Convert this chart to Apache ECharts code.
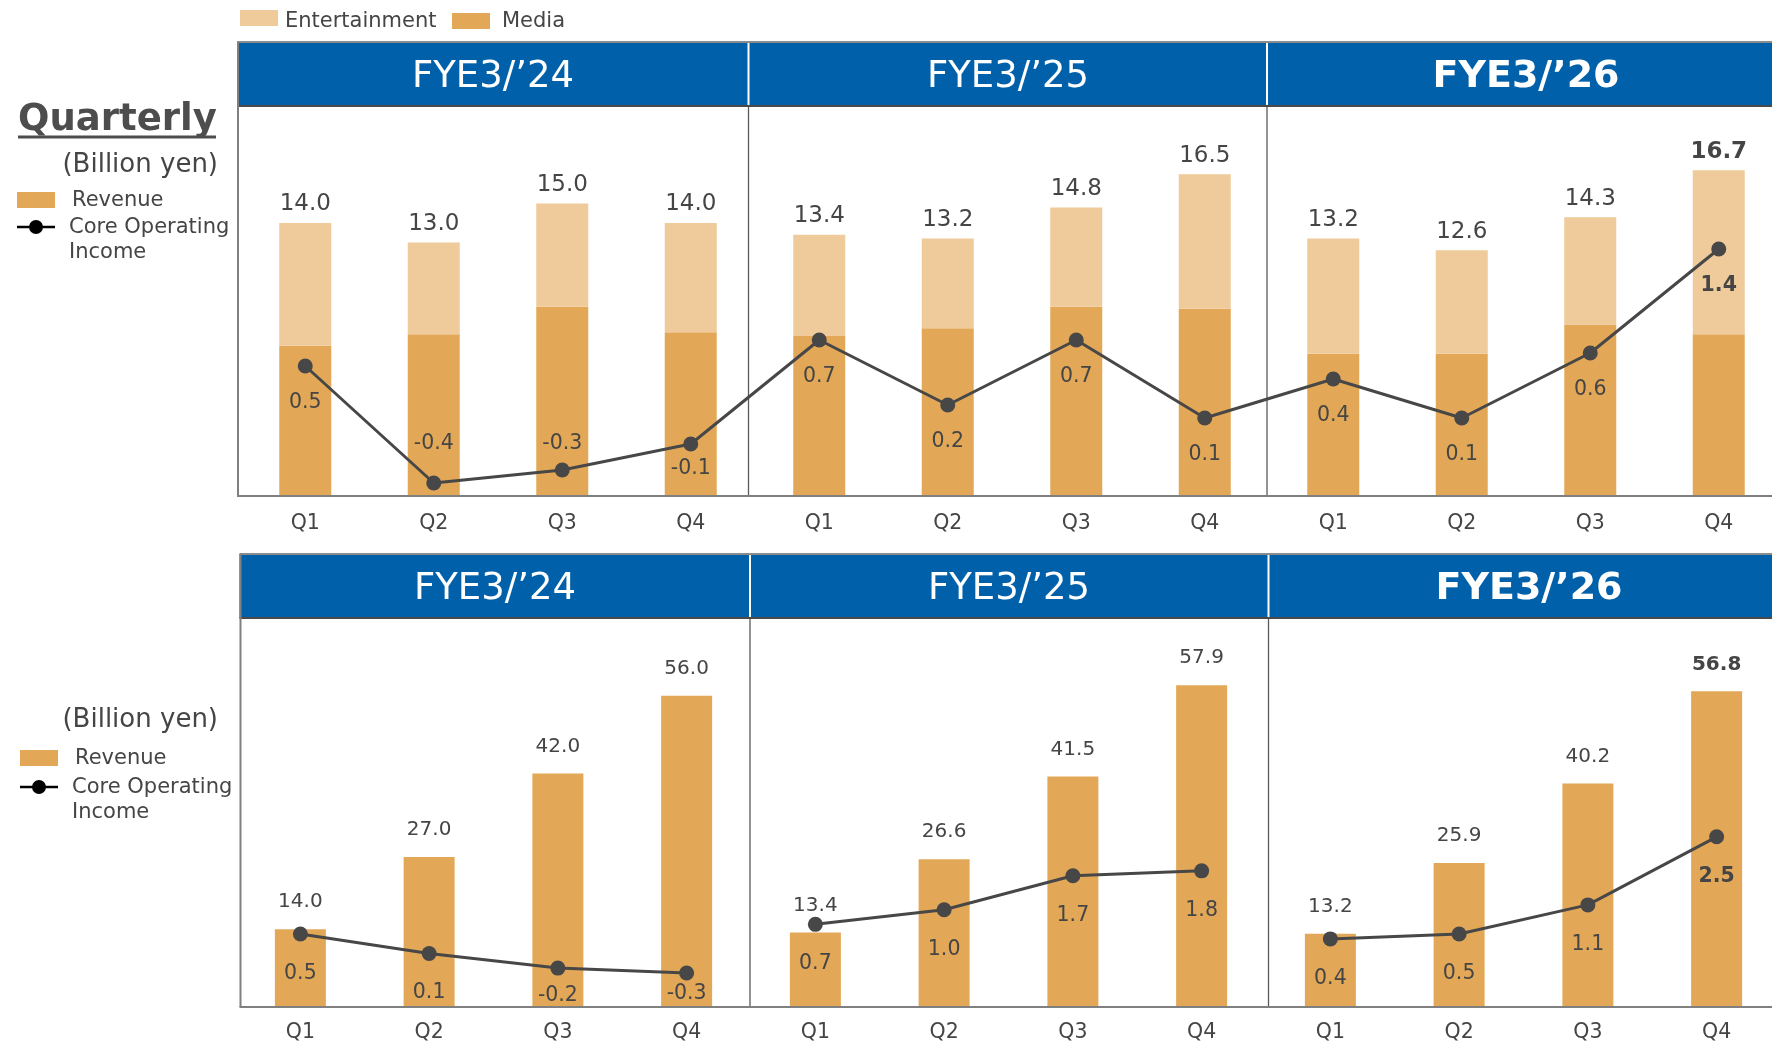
<!DOCTYPE html>
<html>
<head>
<meta charset="utf-8">
<script src="https://cdn.jsdelivr.net/npm/echarts@6/dist/echarts.min.js"></script>
<style>
  html, body { margin: 0; padding: 0; background: #ffffff; overflow: hidden; }
  #chart { width: 1772px; height: 1042px; }
</style>
</head>
<body>
<div id="chart"></div>
<script>
// ---- Data (billion yen) ----
const quarters = ['Q1', 'Q2', 'Q3', 'Q4', 'Q1', 'Q2', 'Q3', 'Q4', 'Q1', 'Q2', 'Q3', 'Q4'];
const fiscalYears = ['FYE3/’24', 'FYE3/’25', 'FYE3/’26'];

// Quarterly figures
const quarterlyRevenue = [14.0, 13.0, 15.0, 14.0, 13.4, 13.2, 14.8, 16.5, 13.2, 12.6, 14.3, 16.7];
const quarterlyMedia = [7.7, 8.3, 9.7, 8.4, 8.2, 8.6, 9.7, 9.6, 7.3, 7.3, 8.8, 8.3];
const quarterlyCoreOpIncome = [0.5, -0.4, -0.3, -0.1, 0.7, 0.2, 0.7, 0.1, 0.4, 0.1, 0.6, 1.4];

// Cumulative (year-to-date) figures
const cumulativeRevenue = [14.0, 27.0, 42.0, 56.0, 13.4, 26.6, 41.5, 57.9, 13.2, 25.9, 40.2, 56.8];
const cumulativeCoreOpIncome = [0.5, 0.1, -0.2, -0.3, 0.7, 1.0, 1.7, 1.8, 0.4, 0.5, 1.1, 2.5];

// Entertainment is the part of revenue above the Media segment
const quarterlyEntertainment = quarterlyRevenue.map((r, i) => +(r - quarterlyMedia[i]).toFixed(2));

// ---- Styling ----
const FONT = '"DejaVu Sans", Verdana, sans-serif';
const TEXT = '#454545';
const BLUE = '#0060A9';
const ENT_COLOR = '#EFCA9A';
const MEDIA_COLOR = '#E3A857';
const LINE_COLOR = '#474747';
const LATEST = 11; // the latest quarter is emphasised in bold

// Label placement tweaks for points that sit close to the baseline
const quarterlyLineLabelTweaks = { 1: ['top', 21], 2: ['top', 8], 3: ['bottom', 7] };
const cumulativeLineLabelTweaks = { 2: ['bottom', 10], 3: ['bottom', 3] };

// Panel frames: header band, plot bottom, left edge, dividers and header title centres
const panels = [
  { bandTop: 42, bandBottom: 106, plotBottom: 496, left: 237, dividers: [748.5, 1267], titleX: [493, 1008, 1526] },
  { bandTop: 554, bandBottom: 618, plotBottom: 1007, left: 239.5, dividers: [750, 1268.5], titleX: [495, 1009, 1529] }
];

function lineData(values, tweaks, onlyYear) {
  return values.map((v, i) => {
    if (onlyYear !== undefined && Math.floor(i / 4) !== onlyYear) return '-';
    const item = { value: v, label: {} };
    if (tweaks[i]) { item.label.position = tweaks[i][0]; item.label.distance = tweaks[i][1]; }
    if (i === LATEST) item.label.fontWeight = 'bold';
    return item;
  });
}

function boldLatest(values) {
  return values.map((v, i) => i === LATEST ? { value: v, label: { fontWeight: 'bold' } } : v);
}

// ---- Frame graphics (header bands, dividers, legends) ----
const graphics = [];
panels.forEach((p, row) => {
  graphics.push({ type: 'rect', shape: { x: p.left, y: p.bandTop, width: 1772 - p.left, height: p.bandBottom - p.bandTop }, style: { fill: BLUE }, z: 1 });
  graphics.push({ type: 'line', shape: { x1: p.left, y1: p.bandTop, x2: 1772, y2: p.bandTop }, style: { stroke: '#8c8c8c', lineWidth: 2 }, z: 2 });
  graphics.push({ type: 'line', shape: { x1: p.left, y1: p.bandBottom, x2: 1772, y2: p.bandBottom }, style: { stroke: '#4a4a4a', lineWidth: 2 }, z: 2 });
  graphics.push({ type: 'line', shape: { x1: p.left + 1, y1: p.bandTop, x2: p.left + 1, y2: p.plotBottom }, style: { stroke: '#808080', lineWidth: 2 }, z: 20 });
  graphics.push({ type: 'line', shape: { x1: p.left, y1: p.plotBottom, x2: 1772, y2: p.plotBottom }, style: { stroke: '#808080', lineWidth: 2 }, z: 20 });
  p.dividers.forEach(x => {
    graphics.push({ type: 'line', shape: { x1: x, y1: p.bandTop + 1, x2: x, y2: p.bandBottom - 1 }, style: { stroke: '#ffffff', lineWidth: 2 }, z: 3 });
    graphics.push({ type: 'line', shape: { x1: x, y1: p.bandBottom, x2: x, y2: p.plotBottom }, style: { stroke: '#5a5a5a', lineWidth: 1.3 }, z: 1 });
  });
  fiscalYears.forEach((fy, k) => {
    const bold = k === fiscalYears.length - 1;
    graphics.push({
      type: 'text', z: 4,
      style: {
        text: fy, x: p.titleX[k], y: (p.bandTop + p.bandBottom) / 2 + 3,
        fill: '#ffffff', font: (bold ? 'bold 38px ' : '37px ') + FONT,
        textAlign: 'center', textVerticalAlign: 'middle'
      }
    });
  });
});

function txt(text, x, y, size, opts) {
  opts = opts || {};
  return {
    type: 'text', z: 5,
    style: {
      text: text, x: x, y: y, fill: opts.fill || TEXT,
      font: (opts.bold ? 'bold ' : '') + size + 'px ' + FONT,
      textAlign: opts.align || 'left', textVerticalAlign: 'middle'
    }
  };
}

// Top legend (revenue segments)
graphics.push({ type: 'rect', shape: { x: 240, y: 10, width: 38, height: 16 }, style: { fill: ENT_COLOR } });
graphics.push(txt('Entertainment', 285, 22, 21));
graphics.push({ type: 'rect', shape: { x: 452, y: 13, width: 38, height: 16 }, style: { fill: MEDIA_COLOR } });
graphics.push(txt('Media', 502, 22, 21));

// Left captions and legends
graphics.push(txt('Quarterly', 18, 120, 37, { bold: true, fill: '#4d4d4d' }));
graphics.push({ type: 'line', shape: { x1: 18, y1: 137, x2: 216, y2: 137 }, style: { stroke: '#4d4d4d', lineWidth: 3 } });

function sideLegend(unitY, revY, lineY, swatchX, textX) {
  graphics.push(txt('(Billion yen)', 218, unitY, 26, { align: 'right' }));
  graphics.push({ type: 'rect', shape: { x: swatchX, y: revY - 8, width: 38, height: 16 }, style: { fill: MEDIA_COLOR } });
  graphics.push(txt('Revenue', textX + 3, revY + 1, 21));
  graphics.push({ type: 'line', shape: { x1: swatchX, y1: lineY, x2: swatchX + 38, y2: lineY }, style: { stroke: '#000000', lineWidth: 2.5 } });
  graphics.push({ type: 'circle', shape: { cx: swatchX + 19, cy: lineY, r: 7 }, style: { fill: '#000000' } });
  graphics.push(txt('Core Operating', textX, lineY + 1, 21));
  graphics.push(txt('Income', textX, lineY + 26, 21));
}
sideLegend(165, 200, 227, 17, 69);
sideLegend(720, 758, 787, 20, 72);

// ---- Series ----
const baseLabel = { show: true, color: TEXT, fontFamily: FONT };
const lineCommon = {
  type: 'line', symbol: 'circle', symbolSize: 15, showAllSymbol: true,
  lineStyle: { color: LINE_COLOR, width: 3 }, itemStyle: { color: LINE_COLOR },
  z: 5, connectNulls: false
};

const series = [
  {
    name: 'Media', type: 'bar', stack: 'rev', xAxisIndex: 0, yAxisIndex: 0,
    barWidth: 52, itemStyle: { color: MEDIA_COLOR }, data: quarterlyMedia
  },
  {
    name: 'Entertainment', type: 'bar', stack: 'rev', xAxisIndex: 0, yAxisIndex: 0,
    barWidth: 52, itemStyle: { color: ENT_COLOR },
    label: Object.assign({}, baseLabel, {
      position: 'top', distance: 7, fontSize: 23,
      formatter: p => quarterlyRevenue[p.dataIndex].toFixed(1)
    }),
    data: boldLatest(quarterlyEntertainment)
  },
  Object.assign({}, lineCommon, {
    name: 'Core Operating Income', xAxisIndex: 0, yAxisIndex: 1,
    label: Object.assign({}, baseLabel, { position: 'bottom', distance: 19, fontSize: 20.5, formatter: p => p.value.toFixed(1) }),
    data: lineData(quarterlyCoreOpIncome, quarterlyLineLabelTweaks)
  }),
  {
    name: 'Revenue', type: 'bar', xAxisIndex: 1, yAxisIndex: 2,
    barWidth: 51, itemStyle: { color: MEDIA_COLOR },
    label: Object.assign({}, baseLabel, { position: 'top', distance: 17, fontSize: 20, formatter: p => p.value.toFixed(1) }),
    data: boldLatest(cumulativeRevenue)
  }
];
fiscalYears.forEach((fy, k) => {
  series.push(Object.assign({}, lineCommon, {
    name: 'Core Operating Income ' + fy, xAxisIndex: 1, yAxisIndex: 3,
    label: Object.assign({}, baseLabel, { position: 'bottom', distance: 21.5, fontSize: 20.5, formatter: p => p.value.toFixed(1) }),
    data: lineData(cumulativeCoreOpIncome, cumulativeLineLabelTweaks, k)
  }));
});

const categoryAxis = (gridIndex, margin) => ({
  type: 'category', gridIndex: gridIndex, data: quarters,
  axisLine: { show: false }, axisTick: { show: false },
  axisLabel: { color: TEXT, fontSize: 20.5, fontFamily: FONT, margin: margin }
});
const hiddenValueAxis = (gridIndex, min, max) => ({
  type: 'value', gridIndex: gridIndex, min: min, max: max,
  axisLine: { show: false }, axisTick: { show: false }, axisLabel: { show: false }, splitLine: { show: false }
});

const option = {
  animation: false,
  backgroundColor: '#ffffff',
  textStyle: { fontFamily: FONT },
  grid: [
    { left: 241, top: 106, width: 1542, height: 390, outerBoundsMode: 'none', containLabel: false },
    { left: 236, top: 618, width: 1545, height: 389, outerBoundsMode: 'none', containLabel: false }
  ],
  xAxis: [categoryAxis(0, 17), categoryAxis(1, 15)],
  yAxis: [
    hiddenValueAxis(0, 0, 20),
    hiddenValueAxis(0, -0.5, 2.5),
    hiddenValueAxis(1, 0, 70),
    hiddenValueAxis(1, -1, 7)
  ],
  graphic: graphics,
  series: series
};

const chart = echarts.init(document.getElementById('chart'), null, { renderer: 'canvas' });
chart.setOption(option);
</script>
</body>
</html>
